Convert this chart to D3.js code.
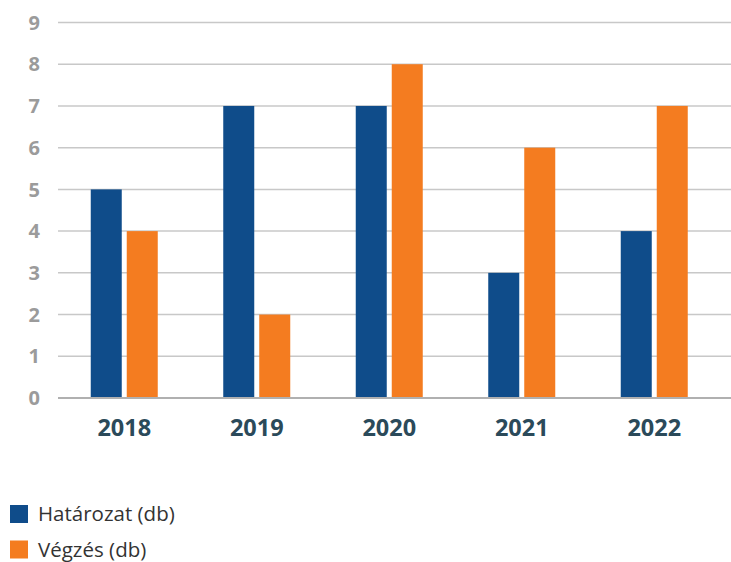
<!DOCTYPE html>
<html><head><meta charset="utf-8">
<script src="https://cdn.jsdelivr.net/npm/d3@7"></script>
<style>body{margin:0;background:#fff}svg{display:block}</style>
</head><body>
<script>
const categories = ["2018","2019","2020","2021","2022"];
const seriesNames = ["Határozat (db)","Végzés (db)"];
const hatarozat = [5,7,7,3,4];
const vegzes = [4,2,8,6,7];
const yTicks = [0,1,2,3,4,5,6,7,8,9];
const colors = ["#0f4c8a","#f47c20"];

const W=731,H=562;
const svg=d3.select("body").append("svg").attr("width",W).attr("height",H);
const x=d3.scaleBand().domain(categories).range([58,720.5]);
const y=d3.scaleLinear().domain([0,9]).range([398,22.5]);
const font="'Open Sans', sans-serif";

// gridlines
svg.append("g").selectAll("line").data(yTicks.filter(d=>d>0)).join("line")
 .attr("x1",58).attr("x2",W).attr("y1",d=>y(d)).attr("y2",d=>y(d))
 .attr("stroke","#c8c8c8").attr("stroke-width",1.5);

// y labels
svg.append("g").selectAll("text").data(yTicks).join("text")
 .attr("x",40).attr("y",d=>y(d)).attr("dy","0.36em").attr("text-anchor","end")
 .attr("font-family",font).attr("font-weight","bold").attr("font-size",20).attr("fill","#9b9b9b")
 .text(d=>d);

const data=[hatarozat,vegzes];
const bw=31,gap=5;
data.forEach((vals,si)=>{
  svg.append("g").selectAll("rect").data(vals).join("rect")
   .attr("x",(d,i)=>x(categories[i])+x.bandwidth()/2-(bw+gap/2)+si*(bw+gap))
   .attr("width",bw)
   .attr("y",d=>y(d)).attr("height",d=>y(0)-y(d))
   .attr("fill",colors[si]);
});

// baseline
svg.append("line").attr("x1",58).attr("x2",W).attr("y1",y(0)).attr("y2",y(0))
 .attr("stroke","#b0b0b0").attr("stroke-width",2);

// x labels
svg.append("g").selectAll("text").data(categories).join("text")
 .attr("x",d=>x(d)+x.bandwidth()/2).attr("y",436).attr("text-anchor","middle")
 .attr("font-family",font).attr("font-weight","bold").attr("font-size",23.5).attr("fill","#2b4a5a")
 .text(d=>d);

// legend
const lg=svg.append("g").selectAll("g").data(seriesNames).join("g")
 .attr("transform",(d,i)=>`translate(10,${505+i*35.5})`);
lg.append("rect").attr("width",18).attr("height",18).attr("fill",(d,i)=>colors[i]);
lg.append("text").attr("x",28).attr("y",9).attr("dy","0.36em")
 .attr("font-family",font).attr("font-size",20.5).attr("fill","#333")
 .text(d=>d);
</script>
</body></html>
